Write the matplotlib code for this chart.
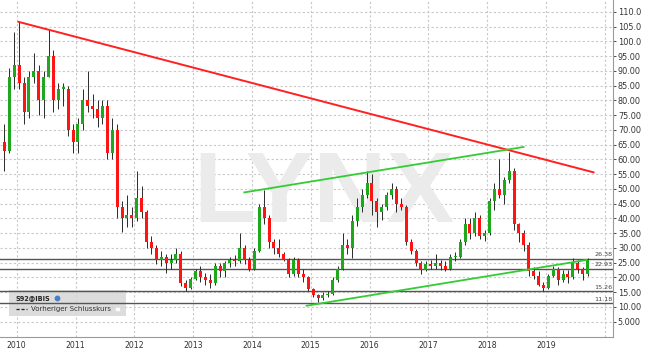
import numpy as np
import pandas as pd
import matplotlib
matplotlib.use('Agg')
import matplotlib.pyplot as plt
from matplotlib.patches import Rectangle

# Monatskerzen S92@IBIS, Okt 2009 - Sep 2019
start_month = '2009-10'
opens = [66, 63, 88,
         92, 86, 76, 88, 90, 80, 88, 95, 80, 84, 84, 70,
         66, 72, 80, 78, 77, 74, 78, 62, 70, 44, 40, 41,
         40, 47, 42, 32, 30, 26, 27, 25, 26, 28, 18, 16.5,
         19.5, 22, 20, 19, 18, 24, 22, 25, 26, 25.5, 30, 26,
         23, 29, 44, 40, 32, 30, 28, 26, 21, 26, 21, 20,
         16, 14, 13, 14, 14.5, 19, 23, 31, 30, 39, 44, 48,
         52, 46, 42, 44, 48, 50, 45, 44, 32, 29, 25, 22.5,
         24.5, 24, 25, 24, 23, 27, 27, 32, 38, 35, 40, 34,
         35, 46, 50, 48, 53, 56, 38, 35, 31, 22, 20.5, 17.5,
         16.5, 20.5, 23, 19, 21, 20, 25, 23, 21]
highs = [72, 91, 103,
         106.5, 88, 90, 96, 92, 90, 104, 97, 86, 86, 85, 72,
         74, 84, 90, 82, 80, 80, 80, 74, 72, 46, 48, 44,
         56, 51, 43, 34, 31, 29, 28, 28, 30, 29, 19, 20,
         23, 24, 21.5, 21, 25, 25, 25.5, 27, 27.5, 35, 31, 27,
         30, 45, 49.7, 41, 33, 33, 28.5, 26.5, 27, 26.5, 23, 20.5,
         16.5, 14.5, 15, 15.5, 20, 24, 35, 33, 41, 47, 50, 56,
         55, 47, 45, 49, 52, 51, 47, 44.5, 33, 29.5, 25.5, 25.5,
         26, 28, 26, 25.5, 28, 28.5, 33, 40, 40, 42, 41, 36,
         47, 52, 60, 54, 62.6, 57, 38.5, 36, 32, 23.5, 22, 18.5,
         21, 24, 23.5, 22.5, 22.5, 26.5, 26, 23.5, 26.5]
lows = [56, 62, 84,
        84, 72, 74, 86, 75, 74, 88, 76, 77, 78, 68, 62,
        62, 70, 76, 74, 71, 72, 60, 60, 40, 35.5, 37, 37,
        39, 40, 30, 28, 24.5, 24, 21.5, 23, 25, 17, 15.5, 16,
        19, 18.5, 17.5, 16.5, 17.5, 20, 20, 23.5, 24, 25, 24.5, 22,
        22.5, 28.5, 38, 30, 28, 27, 25.5, 20, 20.5, 20, 18.5, 15.5,
        13.5, 11.5, 12.5, 13.5, 14, 18.5, 22.5, 28, 26.5, 37.5, 42, 47,
        41, 37, 39.5, 43, 46.5, 42, 43, 31, 28, 24, 21, 22,
        23, 23, 22.5, 22, 22.5, 25.5, 26.5, 31, 33, 34, 33, 32.5,
        34.5, 43, 47, 45, 52, 36, 32, 29, 20.5, 19.5, 17, 15.3,
        16, 20, 17.5, 18.5, 18, 19.5, 21.5, 19, 20.5]
closes = [63, 88, 92,
          86, 76, 88, 90, 80, 88, 95, 80, 84, 84, 70, 66,
          72, 80, 78, 77, 74, 78, 62, 70, 44, 40, 41, 40,
          47, 42, 32, 30, 26, 27, 25, 26, 28, 18, 16.5, 19.5,
          22, 20, 19, 18, 24, 22, 25, 26, 25.5, 30, 26, 23,
          29, 44, 40, 32, 30, 28, 26, 21, 26, 21, 20, 16,
          14, 13, 14, 14.5, 19, 23, 31, 30, 39, 44, 48, 52,
          46, 42, 44, 48, 50, 45, 44, 32, 29, 25, 22.5, 24.5,
          24, 25, 24, 23, 27, 27, 32, 38, 35, 40, 34, 35,
          46, 50, 48, 53, 56, 38, 35, 31, 22, 20.5, 17.5, 16.5,
          20.5, 23, 19, 21, 20, 25, 23, 21, 26]

# Trendlinien (Datum als Dezimaljahr, Kurs)
red_line_x = [2010.03, 2019.81]
red_line_y = [106.6, 55.6]
green_top_x = [2013.87, 2018.62]
green_top_y = [48.8, 64.2]
green_bottom_x = [2014.93, 2019.69]
green_bottom_y = [10.4, 25.9]

# horizontale Marken
levels = [26.38, 22.93, 15.26, 11.18]

years = list(range(2010, 2021))
year_labels = [str(j) for j in range(2010, 2020)] + ['']
yticks = list(range(5, 115, 5))
ytick_labels = ['5.000'] + ['%.2f' % v for v in range(10, 100, 5)] + ['%.1f' % v for v in range(100, 115, 5)]

# Monate -> Dezimaljahr (Mitte des Monats)
months = pd.period_range(start_month, periods=len(closes), freq='M')
t = np.array([m.year + (m.month - 0.5) / 12 for m in months])
o = np.array(opens)
h = np.array(highs)
l = np.array(lows)
c = np.array(closes)

W, H = 645, 357
fig = plt.figure(figsize=(W / 100, H / 100), dpi=100)
ax = fig.add_axes([0, 1 - 337.3 / H, 613 / W, 337.3 / H])

ax.set_xlim(2009.716, 2020.141)
ax.set_ylim(-0.3, 114)

# Gitter
for v in yticks:
    ax.axhline(v, color='#c8c8c8', lw=0.8, ls=(0, (2, 2)), zorder=0)
for j in years:
    ax.axvline(j, color='#c8c8c8', lw=0.8, ls=(0, (2, 2)), zorder=0)

# Wasserzeichen
ax.text(2015.23, 38.8, 'LYNX', ha='center', va='baseline', fontsize=73,
        fontweight='bold', color='#ebebeb', family='Liberation Sans', zorder=0.5)

# Legendenkasten
ax.add_patch(Rectangle((9.3 / W, 1 - 316 / H), 116.7 / W, 26 / H, transform=fig.transFigure,
                       facecolor='#d6d6d6', edgecolor='none', alpha=0.85, zorder=1))

# horizontale Linien
for v in levels:
    ax.axhline(v, color='#555555', lw=1.0, zorder=2)
    ax.text(2020.13, v + 0.6, '%.2f' % v, ha='right', va='bottom', fontsize=4.6, color='#444444', zorder=6)

# Kerzen
up = c >= o
wid = 0.6 / 12
ax.vlines(t, l, h, color='#2a2a2a', lw=0.7, zorder=3)
body_bottom = np.minimum(o, c)
body_height = np.maximum(np.abs(c - o), 0.4)
ax.bar(t[up], body_height[up], bottom=body_bottom[up], width=wid, color='#1ea81e', zorder=4, linewidth=0)
ax.bar(t[~up], body_height[~up], bottom=body_bottom[~up], width=wid, color='#ff1414', zorder=4, linewidth=0)

# Trendlinien
ax.plot(red_line_x, red_line_y, color='#ff2020', lw=1.4, zorder=5)
ax.plot(green_top_x, green_top_y, color='#33cc33', lw=1.3, zorder=5)
ax.plot(green_bottom_x, green_bottom_y, color='#33cc33', lw=1.3, zorder=5)

# Achsen
ax.yaxis.tick_right()
ax.set_yticks(yticks)
ax.set_yticklabels(ytick_labels)
ax.set_xticks(years)
ax.set_xticklabels(year_labels)
ax.tick_params(axis='y', labelsize=5.9, colors='#333333', length=2, pad=1.5, width=0.6)
ax.tick_params(axis='x', labelsize=5.6, colors='#333333', length=0, pad=3)
for s in ['left', 'top']:
    ax.spines[s].set_visible(False)
for s in ['right', 'bottom']:
    ax.spines[s].set_color('#9a9a9a')
    ax.spines[s].set_linewidth(0.8)

# Legende
fig.text(15 / W, 1 - 297.7 / H, 'S92@IBIS', fontsize=4.7, fontweight='bold', color='#222222', va='center')
fig.add_artist(plt.Line2D([56.7 / W], [1 - 297.5 / H], marker='o', markersize=3.2,
                          color='#4a7fc8', transform=fig.transFigure))
fig.add_artist(plt.Line2D([16 / W, 27 / W], [1 - 309.3 / H] * 2, color='#222222', lw=0.9,
                          ls=(0, (2.5, 1.5)), transform=fig.transFigure))
fig.text(30.7 / W, 1 - 309.3 / H, 'Vorheriger Schlusskurs', fontsize=5, color='#333333', va='center')
fig.add_artist(Rectangle((115 / W, 1 - 311 / H), 4.5 / W, 4.5 / H, transform=fig.transFigure,
                         facecolor='white', edgecolor='#dddddd', lw=0.5))

fig.savefig('out.png', dpi=100)
